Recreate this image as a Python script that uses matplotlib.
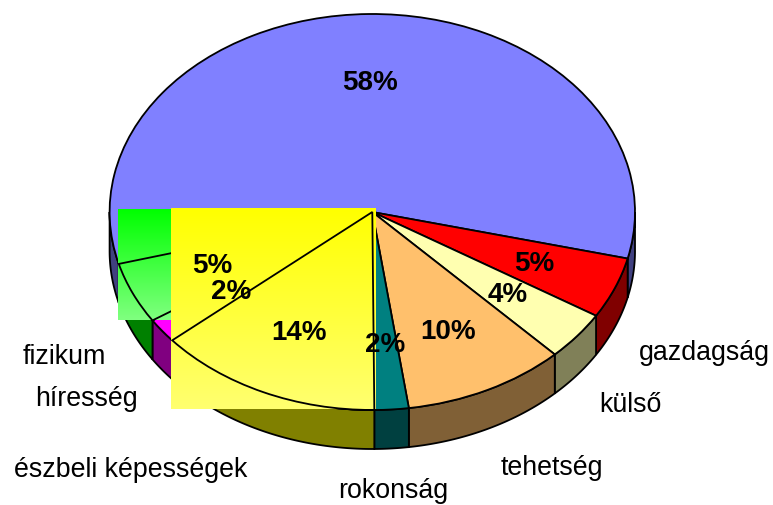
import numpy as np
import matplotlib
matplotlib.use("Agg")
import matplotlib.pyplot as plt
from matplotlib.transforms import Affine2D
from matplotlib.patches import Polygon

plt.rcParams['font.family'] = ['Liberation Sans', 'DejaVu Sans']

categories = ["", "gazdagság", "külső", "tehetség", "rokonság",
              "észbeli képességek", "híresség", "fizikum"]
values = [58, 5, 4, 10, 2.1, 13.9, 2, 5]
pct_labels = ["58%", "5%", "4%", "10%", "2%", "14%", "2%", "5%"]
top_colors = ["#8080FF", "#FF0000", "#FFFFB0", "#FFC06C", "#008080", "#FFFF00", "#FF00FF", "#00FF00"]
side_colors = ["#404080", "#800000", "#808058", "#806036", "#004040", "#808000", "#800080", "#008000"]

W, H = 773, 505
CX, CY, RX, RY, DEPTH = 372.3, 212.0, 262.7, 198.0, 39.0
START = 195.2

label_pos = {"gazdagság": (704.5, 353), "külső": (630, 405), "tehetség": (552, 468),
             "rokonság": (393.5, 491), "észbeli képességek": (131, 470),
             "híresség": (86, 399), "fizikum": (64.5, 357)}
pct_pos = [(370, 83), (534, 264), (508, 295), (448, 332), (385, 345), (299, 333), (231, 292), (212, 266)]

fig = plt.figure(figsize=(W / 100, H / 100), dpi=100)
ax = fig.add_axes([(CX - 1.25 * RX) / W, (H - CY - 1.25 * RY) / H, 2.5 * RX / W, 2.5 * RY / H])
px = Affine2D().scale(1, -1).translate(0, H)

# filled top faces
wedges, _ = ax.pie(values, colors=top_colors, startangle=START, counterclock=False,
                   wedgeprops=dict(edgecolor="black", linewidth=1.3))
for w in wedges:
    w.set_zorder(3)

# side walls
d = DEPTH / RY
bounds = START - np.cumsum([0] + values) * 3.6
for i, col in enumerate(side_colors):
    hi, lo = bounds[i], bounds[i + 1]
    for shift in (0, -360):
        a0 = max(lo, 180 + shift)
        a1 = min(hi, 360 + shift)
        if a1 <= a0:
            continue
        t = np.radians(np.linspace(a0, a1, 80))
        x, y = np.cos(t), np.sin(t)
        poly = np.r_[np.c_[x, y], np.c_[x, y - d][::-1]]
        ax.add_patch(Polygon(poly, closed=True, facecolor=col, edgecolor="black",
                             linewidth=1.3, zorder=2, clip_on=False))

# gradient fills, painted as the wedge's bounding box
def gradient(idx, end, z, pad):
    w = wedges[idx]
    ext = w.get_path().get_extents(w.get_patch_transform())
    x0 = ext.x0 + pad[0] / RX
    x1 = ext.x1 + pad[1] / RX
    y0 = ext.y0 + pad[2] / RY
    y1 = ext.y1 + pad[3] / RY
    start = np.array(matplotlib.colors.to_rgb(top_colors[idx]))
    end = np.array(matplotlib.colors.to_rgb(end))
    f = np.linspace(0, 1, 256)[:, None, None]
    img = start[None, None, :] * (1 - f) + end[None, None, :] * f
    ax.imshow(img, extent=(x0, x1, y0, y1), aspect="auto", zorder=z, origin="upper")

def outline(idx, z):
    colors = ["none"] * len(values)
    again, _ = ax.pie(values, colors=colors, startangle=START, counterclock=False,
                      wedgeprops=dict(edgecolor="black", linewidth=1.3))
    for k, w in enumerate(again):
        w.set_zorder(z)
        w.set_visible(k == idx)

gradient(7, "#80FF80", 4, (-1, 0, 0, 2))
outline(7, 5)
gradient(5, "#FFFF70", 6, (-1, 1, 0.5, 3.5))
outline(5, 7)

ax.set_aspect("auto")
ax.set_xlim(-1.25, 1.25)
ax.set_ylim(-1.25, 1.25)
ax.set_frame_on(False)

for txt, (x, y) in zip(pct_labels, pct_pos):
    fig.text(x, y, txt, transform=px, ha="center", va="center", fontsize=20,
             fontweight="bold", color="black", zorder=10)
for name in categories:
    if name:
        x, y = label_pos[name]
        fig.text(x, y, name, transform=px, ha="center", va="center", fontsize=19.3,
                 color="black", zorder=10)

fig.savefig("out.png", dpi=100, facecolor="white")
